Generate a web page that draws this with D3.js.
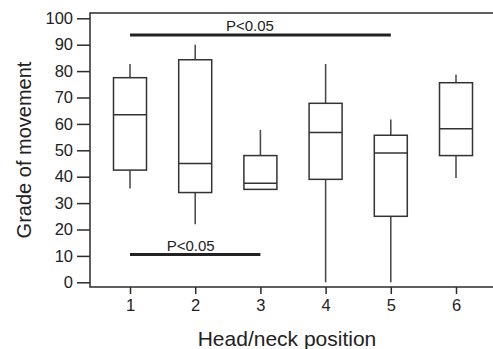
<!DOCTYPE html>
<html>
<head>
<meta charset="utf-8">
<script src="https://cdn.jsdelivr.net/npm/d3@7"></script>
<style>
  body { margin: 0; background: #fff; }
  svg { display: block; font-family: "Liberation Sans", Arial, sans-serif; }
</style>
</head>
<body>
<svg id="chart" width="493" height="349"></svg>
<script>
// head/neck positions and the box statistics
var positions = [1, 2, 3, 4, 5, 6];
var whiskerLow = [35.5, 22, 35.2, 0, 0, 39.5];
var q1 = [42.5, 34, 35.2, 39, 25, 48];
var median = [63.5, 45, 37.5, 56.7, 49, 58.2];
var q3 = [77.5, 84.3, 48, 67.8, 55.7, 75.6];
var whiskerHigh = [82.7, 90, 57.7, 82.7, 61.7, 78.6];

var yTicks = [0, 10, 20, 30, 40, 50, 60, 70, 80, 90, 100];

// significance bars: from, to, level, label position
var sigFrom = [1, 1];
var sigTo = [5, 3];
var sigLevel = [93.7, 10.5];
var sigLabelAt = [2.84, 1.93];
var sigText = ["P<0.05", "P<0.05"];

var svg = d3.select("#chart");
var frameLeft = 90, frameTop = 13, frameBottom = 287, frameRight = 493;

var x = d3.scaleLinear().domain([1, 6]).range([130, 456]);
var y = d3.scaleLinear().domain([0, 100]).range([282.3, 18.3]);

var ink = "#2b2b2b";

// frame: left + top + bottom lines
svg.append("path")
    .attr("d", `M${frameRight},${frameTop}H${frameLeft}V${frameBottom}H${frameRight}`)
    .attr("fill", "none")
    .attr("stroke", ink)
    .attr("stroke-width", 1.5);

var yAxis = svg.append("g")
    .attr("transform", `translate(${frameLeft},0)`)
    .call(d3.axisLeft(y).tickValues(yTicks).tickSize(13).tickPadding(4));
yAxis.select(".domain").remove();
yAxis.selectAll("line").attr("stroke", ink).attr("stroke-width", 1.5);
yAxis.selectAll("text").attr("font-size", 16.5).attr("fill", "#222")
    .attr("font-family", "Liberation Sans, Arial, sans-serif");

var xAxis = svg.append("g")
    .attr("transform", `translate(0,${frameBottom})`)
    .call(d3.axisBottom(x).tickValues(positions).tickFormat(d3.format("d")).tickSize(7).tickPadding(5));
xAxis.select(".domain").remove();
xAxis.selectAll("line").attr("stroke", ink).attr("stroke-width", 1.5);
xAxis.selectAll("text").attr("font-size", 16.5).attr("fill", "#222")
    .attr("font-family", "Liberation Sans, Arial, sans-serif");

// boxes
var boxW = 33;
var boxes = svg.append("g").selectAll("g")
    .data(positions.map(function(p, i) {
        return { p: p, lo: whiskerLow[i], q1: q1[i], med: median[i], q3: q3[i], hi: whiskerHigh[i] };
    }))
    .enter().append("g");

boxes.append("line")
    .attr("x1", d => x(d.p)).attr("x2", d => x(d.p))
    .attr("y1", d => y(d.hi)).attr("y2", d => y(d.q3))
    .attr("stroke", "#444").attr("stroke-width", 1.5);
boxes.append("line")
    .attr("x1", d => x(d.p)).attr("x2", d => x(d.p))
    .attr("y1", d => y(d.q1)).attr("y2", d => y(d.lo))
    .attr("stroke", "#444").attr("stroke-width", 1.5);
boxes.append("rect")
    .attr("x", d => x(d.p) - boxW / 2)
    .attr("width", boxW)
    .attr("y", d => y(d.q3))
    .attr("height", d => y(d.q1) - y(d.q3))
    .attr("fill", "none")
    .attr("stroke", "#333").attr("stroke-width", 1.5);
boxes.append("line")
    .attr("x1", d => x(d.p) - boxW / 2).attr("x2", d => x(d.p) + boxW / 2)
    .attr("y1", d => y(d.med)).attr("y2", d => y(d.med))
    .attr("stroke", "#333").attr("stroke-width", 1.5);

// significance bars
sigFrom.forEach(function(f, i) {
    svg.append("line")
        .attr("x1", x(f)).attr("x2", x(sigTo[i]))
        .attr("y1", y(sigLevel[i])).attr("y2", y(sigLevel[i]))
        .attr("stroke", "#222").attr("stroke-width", 3);
    svg.append("text")
        .attr("x", x(sigLabelAt[i]))
        .attr("y", y(sigLevel[i]) - 4)
        .attr("text-anchor", "middle")
        .attr("font-size", 15)
        .attr("fill", "#222")
        .text(sigText[i]);
});

// axis titles
svg.append("text")
    .attr("x", 287).attr("y", 346)
    .attr("text-anchor", "middle")
    .attr("font-size", 21)
    .attr("fill", "#222")
    .text("Head/neck position");
svg.append("text")
    .attr("transform", "translate(31,150) rotate(-90)")
    .attr("text-anchor", "middle")
    .attr("font-size", 20)
    .attr("fill", "#222")
    .text("Grade of movement");
</script>
</body>
</html>
